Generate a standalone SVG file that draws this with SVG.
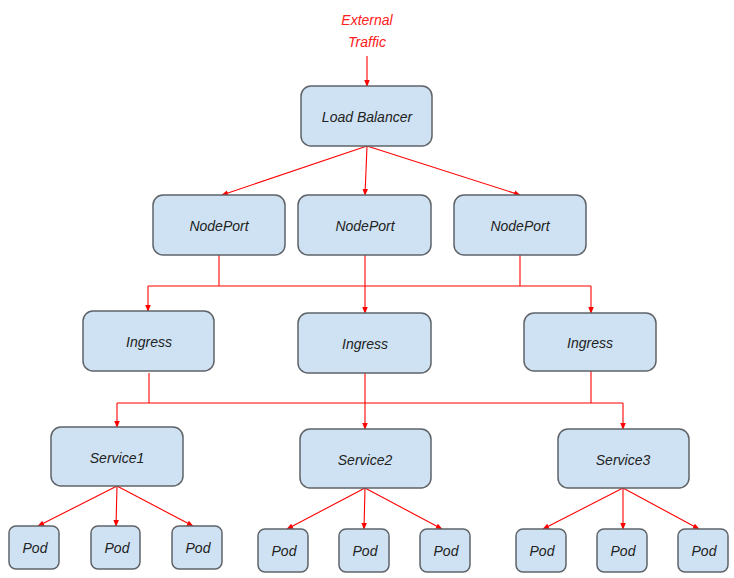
<svg xmlns="http://www.w3.org/2000/svg" width="734" height="578" viewBox="0 0 734 578">
<style>
.n rect{fill:#cfe2f3;stroke:#5f6368;stroke-width:1.5}
.n text{font-family:"Liberation Sans",sans-serif;font-style:italic;font-size:14px;fill:#222;text-anchor:middle;dominant-baseline:central}
.c path{fill:none;stroke:#ff0000;stroke-width:1.1}
.lbl{font-family:"Liberation Sans",sans-serif;font-style:italic;font-size:14px;fill:#ff2020;text-anchor:middle}
</style>
<defs>
<marker id="a" viewBox="0 0 8 8" refX="7" refY="4" markerWidth="7" markerHeight="7" orient="auto" markerUnits="userSpaceOnUse">
<path d="M0,0.8 L8,4 L0,7.2 Z" fill="#ff0000"/>
</marker>
</defs>
<rect width="734" height="578" fill="#fff"/>
<text class="lbl" x="367" y="25">External</text>
<text class="lbl" x="367" y="47">Traffic</text>
<g class="c">
<path d="M367,56 V86" marker-end="url(#a)"/>
<path d="M367,146 L222,195" marker-end="url(#a)"/>
<path d="M367,146 L365,195" marker-end="url(#a)"/>
<path d="M367,146 L520,195" marker-end="url(#a)"/>
<path d="M219,255 V286"/>
<path d="M520,255 V286"/>
<path d="M148,286 H591"/>
<path d="M148,286 V311" marker-end="url(#a)"/>
<path d="M365,255 V313" marker-end="url(#a)"/>
<path d="M591,286 V313" marker-end="url(#a)"/>
<path d="M149,373 V403"/>
<path d="M591,371 V403"/>
<path d="M117,403 H623"/>
<path d="M117,403 V427" marker-end="url(#a)"/>
<path d="M365,373 V429" marker-end="url(#a)"/>
<path d="M623,403 V429" marker-end="url(#a)"/>
<path d="M117,486 L38,526" marker-end="url(#a)"/>
<path d="M117,486 L116,526" marker-end="url(#a)"/>
<path d="M117,486 L193,526" marker-end="url(#a)"/>
<path d="M365,488 L287,529" marker-end="url(#a)"/>
<path d="M365,488 L364,529" marker-end="url(#a)"/>
<path d="M365,488 L442,529" marker-end="url(#a)"/>
<path d="M623,488 L543,529" marker-end="url(#a)"/>
<path d="M623,488 L623,529" marker-end="url(#a)"/>
<path d="M623,488 L699,529" marker-end="url(#a)"/>
</g>
<g id="lb" class="n"><rect x="301" y="86" width="131" height="60" rx="10"/><text x="367" y="117">Load Balancer</text></g>
<g id="np1" class="n"><rect x="153" y="195" width="132" height="60" rx="10"/><text x="219" y="226">NodePort</text></g>
<g id="np2" class="n"><rect x="298" y="195" width="133" height="60" rx="10"/><text x="365" y="226">NodePort</text></g>
<g id="np3" class="n"><rect x="454" y="195" width="132" height="60" rx="10"/><text x="520" y="226">NodePort</text></g>
<g id="in1" class="n"><rect x="83" y="311" width="131" height="60" rx="10"/><text x="149" y="342">Ingress</text></g>
<g id="in2" class="n"><rect x="298" y="313" width="133" height="60" rx="10"/><text x="365" y="344">Ingress</text></g>
<g id="in3" class="n"><rect x="524" y="313" width="132" height="58" rx="10"/><text x="590" y="343">Ingress</text></g>
<g id="s1" class="n"><rect x="51" y="427" width="132" height="59" rx="10"/><text x="117" y="458">Service1</text></g>
<g id="s2" class="n"><rect x="300" y="429" width="131" height="59" rx="10"/><text x="365" y="460">Service2</text></g>
<g id="s3" class="n"><rect x="558" y="429" width="131" height="59" rx="10"/><text x="623" y="460">Service3</text></g>
<g id="p1" class="n"><rect x="9" y="526" width="50" height="43" rx="7"/><text x="35" y="548">Pod</text></g>
<g id="p2" class="n"><rect x="91" y="526" width="49" height="43" rx="7"/><text x="117" y="548">Pod</text></g>
<g id="p3" class="n"><rect x="172" y="526" width="50" height="43" rx="7"/><text x="198" y="548">Pod</text></g>
<g id="p4" class="n"><rect x="258" y="529" width="50" height="43" rx="7"/><text x="284" y="551">Pod</text></g>
<g id="p5" class="n"><rect x="339" y="529" width="50" height="43" rx="7"/><text x="365" y="551">Pod</text></g>
<g id="p6" class="n"><rect x="420" y="529" width="50" height="43" rx="7"/><text x="446" y="551">Pod</text></g>
<g id="p7" class="n"><rect x="516" y="529" width="50" height="43" rx="7"/><text x="542" y="551">Pod</text></g>
<g id="p8" class="n"><rect x="597" y="529" width="50" height="43" rx="7"/><text x="623" y="551">Pod</text></g>
<g id="p9" class="n"><rect x="678" y="529" width="50" height="43" rx="7"/><text x="704" y="551">Pod</text></g>
</svg>
